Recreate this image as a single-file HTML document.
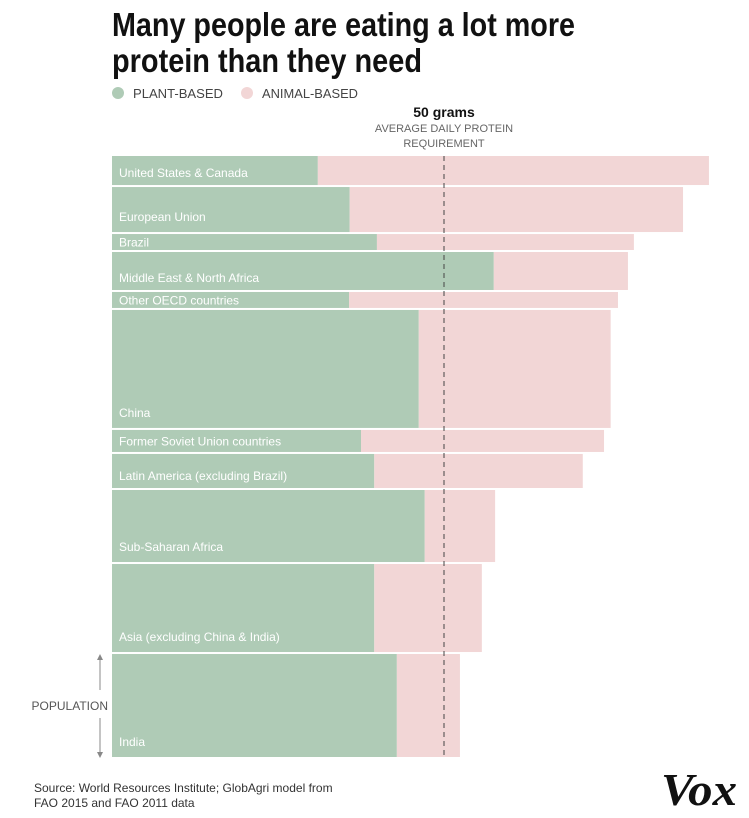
<!DOCTYPE html>
<html><head><meta charset="utf-8"><style>
html,body{margin:0;padding:0;background:#fff;}
svg{display:block;font-family:"Liberation Sans",sans-serif;}
</style></head><body>
<svg id="chart" width="749" height="818" viewBox="0 0 749 818">
<text x="112" y="36" font-family="'Liberation Sans Narrow','Liberation Sans',sans-serif" font-weight="bold" font-size="33" textLength="463" lengthAdjust="spacingAndGlyphs" fill="#111">Many people are eating a lot more</text>
<text x="112" y="72" font-family="'Liberation Sans Narrow','Liberation Sans',sans-serif" font-weight="bold" font-size="33" textLength="310" lengthAdjust="spacingAndGlyphs" fill="#111">protein than they need</text>
<g>
<circle cx="118" cy="93" r="6" fill="#afcbb6"/>
<text x="133" y="98" font-size="13" fill="#444" textLength="90" lengthAdjust="spacingAndGlyphs">PLANT-BASED</text>
<circle cx="247" cy="93" r="6" fill="#f2d6d6"/>
<text x="262" y="98" font-size="13" fill="#444" textLength="96" lengthAdjust="spacingAndGlyphs">ANIMAL-BASED</text>
</g>
<g id="bars"></g>
<g id="ref"></g>
<g>
<line x1="100" y1="657" x2="100" y2="690" stroke="#888" stroke-width="1"/>
<line x1="100" y1="718" x2="100" y2="755" stroke="#888" stroke-width="1"/>
<path d="M97,660 L100,654 L103,660 Z M97,752 L100,758 L103,752 Z" fill="#888"/>
<text x="108" y="710" text-anchor="end" font-size="12" fill="#555">POPULATION</text>
</g>
<text x="34" y="792" font-size="12" fill="#333">Source: World Resources Institute; GlobAgri model from</text>
<text x="34" y="807" font-size="12" fill="#333">FAO 2015 and FAO 2011 data</text>
<text x="737" y="805" text-anchor="end" font-family="'Liberation Serif',serif" font-weight="bold" font-style="italic" font-size="46" textLength="76" lengthAdjust="spacingAndGlyphs" fill="#111">Vox</text>
</svg>
<script>
const regions = ["United States & Canada","European Union","Brazil","Middle East & North Africa","Other OECD countries","China","Former Soviet Union countries","Latin America (excluding Brazil)","Sub-Saharan Africa","Asia (excluding China  & India)","India"];
const population = [331,513,182,433,182,1345,251,388,821,1003,1174];
const plantProtein = [31.0,35.8,39.9,57.5,35.7,46.2,37.5,39.5,47.1,39.5,42.9];
const totalProtein = [89.9,86.0,78.6,77.7,76.2,75.1,74.1,70.9,57.7,55.7,52.4];
const requirement = 50;

(function(){
const NS="http://www.w3.org/2000/svg";
const x0=112, pxPerG=6.64, yTop=156, yBottom=757, gap=2;
const xs=g=>x0+g*pxPerG;
const totalPop=population.reduce((a,b)=>a+b,0);
const hScale=(yBottom-yTop-gap*(population.length-1))/totalPop;
const bars=document.getElementById('bars');
let y=yTop;
regions.forEach((r,i)=>{
  const h=population[i]*hScale;
  const p=document.createElementNS(NS,'rect');
  
  
  p.setAttribute('x',x0);p.setAttribute('y',y);p.setAttribute('width',xs(plantProtein[i])-x0);p.setAttribute('height',h);p.setAttribute('fill','#afcbb6');
  bars.appendChild(p);
  const a=document.createElementNS(NS,'rect');
  
  
  a.setAttribute('x',xs(plantProtein[i]));a.setAttribute('y',y);a.setAttribute('width',xs(totalProtein[i])-xs(plantProtein[i]));a.setAttribute('height',h);a.setAttribute('fill','#f2d6d6');
  bars.appendChild(a);
  const t=document.createElementNS(NS,'text');
  
  
  t.setAttribute('x',x0+7);
  t.setAttribute('y',h<26? y+h/2+4.5 : (h<40 ? y+h-8 : y+h-11));
  t.setAttribute('font-size','12');t.setAttribute('fill','#fff');
  t.textContent=r;
  bars.appendChild(t);
  y+=h+gap;
});
const ref=document.getElementById('ref');
const rx=xs(requirement);
const ln=document.createElementNS(NS,'line');


ln.setAttribute('x1',rx);ln.setAttribute('x2',rx);ln.setAttribute('y1',yTop);ln.setAttribute('y2',yBottom);
ln.setAttribute('stroke','#444');ln.setAttribute('stroke-width','1');ln.setAttribute('stroke-dasharray','5,4');
ref.appendChild(ln);
[["50 grams",117,14,"#111","bold"],["AVERAGE DAILY PROTEIN",132,11,"#666","normal"],["REQUIREMENT",147,11,"#666","normal"]].forEach((d,k)=>{
  const t=document.createElementNS(NS,'text');
  
  
  t.setAttribute('x',rx);t.setAttribute('y',d[1]);t.setAttribute('text-anchor','middle');
  t.setAttribute('font-size',d[2]);t.setAttribute('fill',d[3]);t.setAttribute('font-weight',d[4]);
  t.textContent=d[0];
  ref.appendChild(t);
});
})();
</script>
</body></html>
